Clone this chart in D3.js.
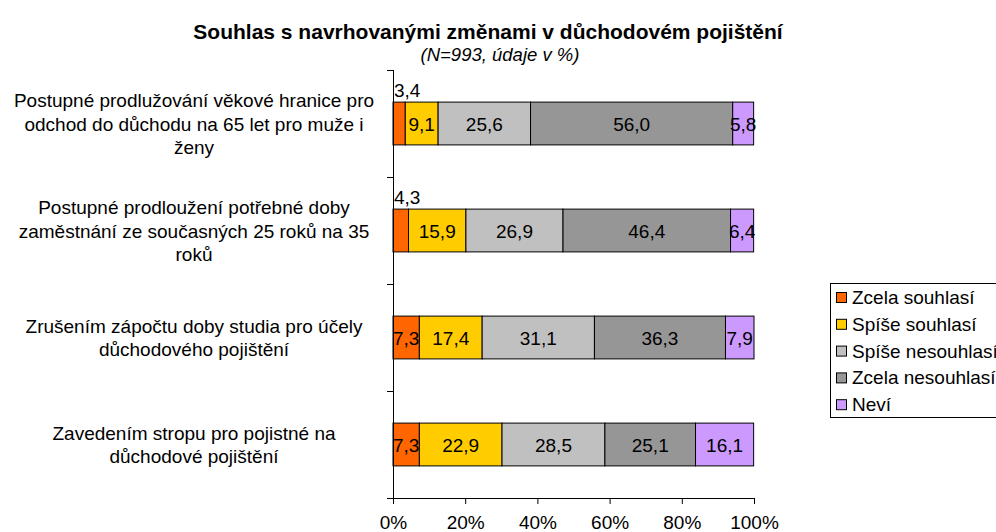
<!DOCTYPE html>
<html><head><meta charset="utf-8">
<script src="https://cdn.jsdelivr.net/npm/d3@7/dist/d3.min.js"></script>
<style>body{margin:0;background:#fff;} text{font-family:"Liberation Sans",Arial,sans-serif;}</style>
</head><body><svg id="c" width="996" height="532"></svg>
<script>
const categories = [
  ["Postupné prodlužování věkové hranice pro","odchod do důchodu na 65 let pro muže i","ženy"],
  ["Postupné prodloužení potřebné doby","zaměstnání ze současných 25 roků na 35","roků"],
  ["Zrušením zápočtu doby studia pro účely","důchodového pojištění"],
  ["Zavedením stropu pro pojistné na","důchodové pojištění"]
];
const seriesNames = ["Zcela souhlasí","Spíše souhlasí","Spíše nesouhlasí","Zcela nesouhlasí","Neví"];
const seriesColors = ["#FF6600","#FFCC00","#C0C0C0","#969696","#CC99FF"];
const zcelaSouhlasi = [3.4, 4.3, 7.3, 7.3];
const spiseSouhlasi = [9.1, 15.9, 17.4, 22.9];
const spiseNesouhlasi = [25.6, 26.9, 31.1, 28.5];
const zcelaNesouhlasi = [56.0, 46.4, 36.3, 25.1];
const nevi = [5.8, 6.4, 7.9, 16.1];
const xTicks = [0,20,40,60,80,100];
const title = "Souhlas s navrhovanými změnami v důchodovém pojištění";
const subtitle = "(N=993, údaje v %)";

const series = [zcelaSouhlasi, spiseSouhlasi, spiseNesouhlasi, zcelaNesouhlasi, nevi];
const svg = d3.select("#c");
const x = d3.scaleLinear().domain([0,100]).range([393,754]);
const y = d3.scaleBand().domain(d3.range(categories.length)).range([70,498]).paddingInner(0.6).paddingOuter(0.3);
const fmt = v => v.toFixed(1).replace(".", ",");
const FS = "19px";

svg.append("text").attr("x",488).attr("y",39).attr("text-anchor","middle")
  .style("font-weight","bold").style("font-size","21px").text(title);
svg.append("text").attr("x",500).attr("y",61).attr("text-anchor","middle")
  .style("font-style","italic").style("font-size","18.5px").text(subtitle);

// bars
categories.forEach((c, i) => {
  let acc = 0;
  series.forEach((s, k) => {
    const v = s[i];
    const x0 = x(acc), x1 = x(acc + v);
    svg.append("rect").attr("x", x0).attr("y", y(i)).attr("width", x1 - x0).attr("height", y.bandwidth())
      .attr("fill", seriesColors[k]).attr("stroke", "#000").attr("stroke-width", 1);
    const t = svg.append("text").style("font-size",FS).attr("fill","#000");
    if (v < 5) {
      t.attr("x", x0 + 1).attr("y", y(i) - 5).text(fmt(v));
    } else {
      t.attr("x", (x0 + x1) / 2).attr("y", y(i) + y.bandwidth()/2 + 7).attr("text-anchor","middle").text(fmt(v));
    }
    acc += v;
  });
  const lines = c;
  const lh = 23.5;
  const cy = y(i) + y.bandwidth()/2;
  lines.forEach((ln, j) => {
    svg.append("text").attr("x", 194).attr("y", cy + (j - (lines.length-1)/2) * lh + 7)
      .attr("text-anchor","middle").style("font-size",FS).text(ln);
  });
});

// axes
const xAxis = d3.axisBottom(x).tickValues(xTicks).tickFormat(d => d + "%").tickSize(6).tickSizeOuter(0);
const gx = svg.append("g").attr("transform","translate(0,498)").call(xAxis);
gx.select(".domain").attr("d","M387,0.5H754").attr("stroke","#000");
gx.selectAll("text").style("font-size",FS).style("font-family","Liberation Sans, Arial, sans-serif").attr("fill","#000").attr("dy",null).attr("y",31);
gx.selectAll("line").attr("stroke","#000");

const yEdges = d3.range(categories.length + 1).map(i => 70 + i * (428 / categories.length));
const gy = svg.append("g");
gy.append("line").attr("x1",393.5).attr("x2",393.5).attr("y1",70).attr("y2",498).attr("stroke","#000");
gy.selectAll("line.t").data(yEdges).enter().append("line").attr("class","t")
  .attr("x1",387).attr("x2",393).attr("y1",d=>Math.round(d)+0.5).attr("y2",d=>Math.round(d)+0.5).attr("stroke","#000");

// legend
const lg = svg.append("g");
lg.append("rect").attr("x",830.5).attr("y",283.5).attr("width",180).attr("height",134).attr("fill","#fff").attr("stroke","#000");
seriesNames.forEach((n, k) => {
  const base = 304 + k * 26.8;
  lg.append("rect").attr("x",836.5).attr("y",base-11.5).attr("width",10).attr("height",10).attr("fill",seriesColors[k]).attr("stroke","#000");
  lg.append("text").attr("x",852).attr("y",base).style("font-size",FS).text(n);
});
</script></body></html>
